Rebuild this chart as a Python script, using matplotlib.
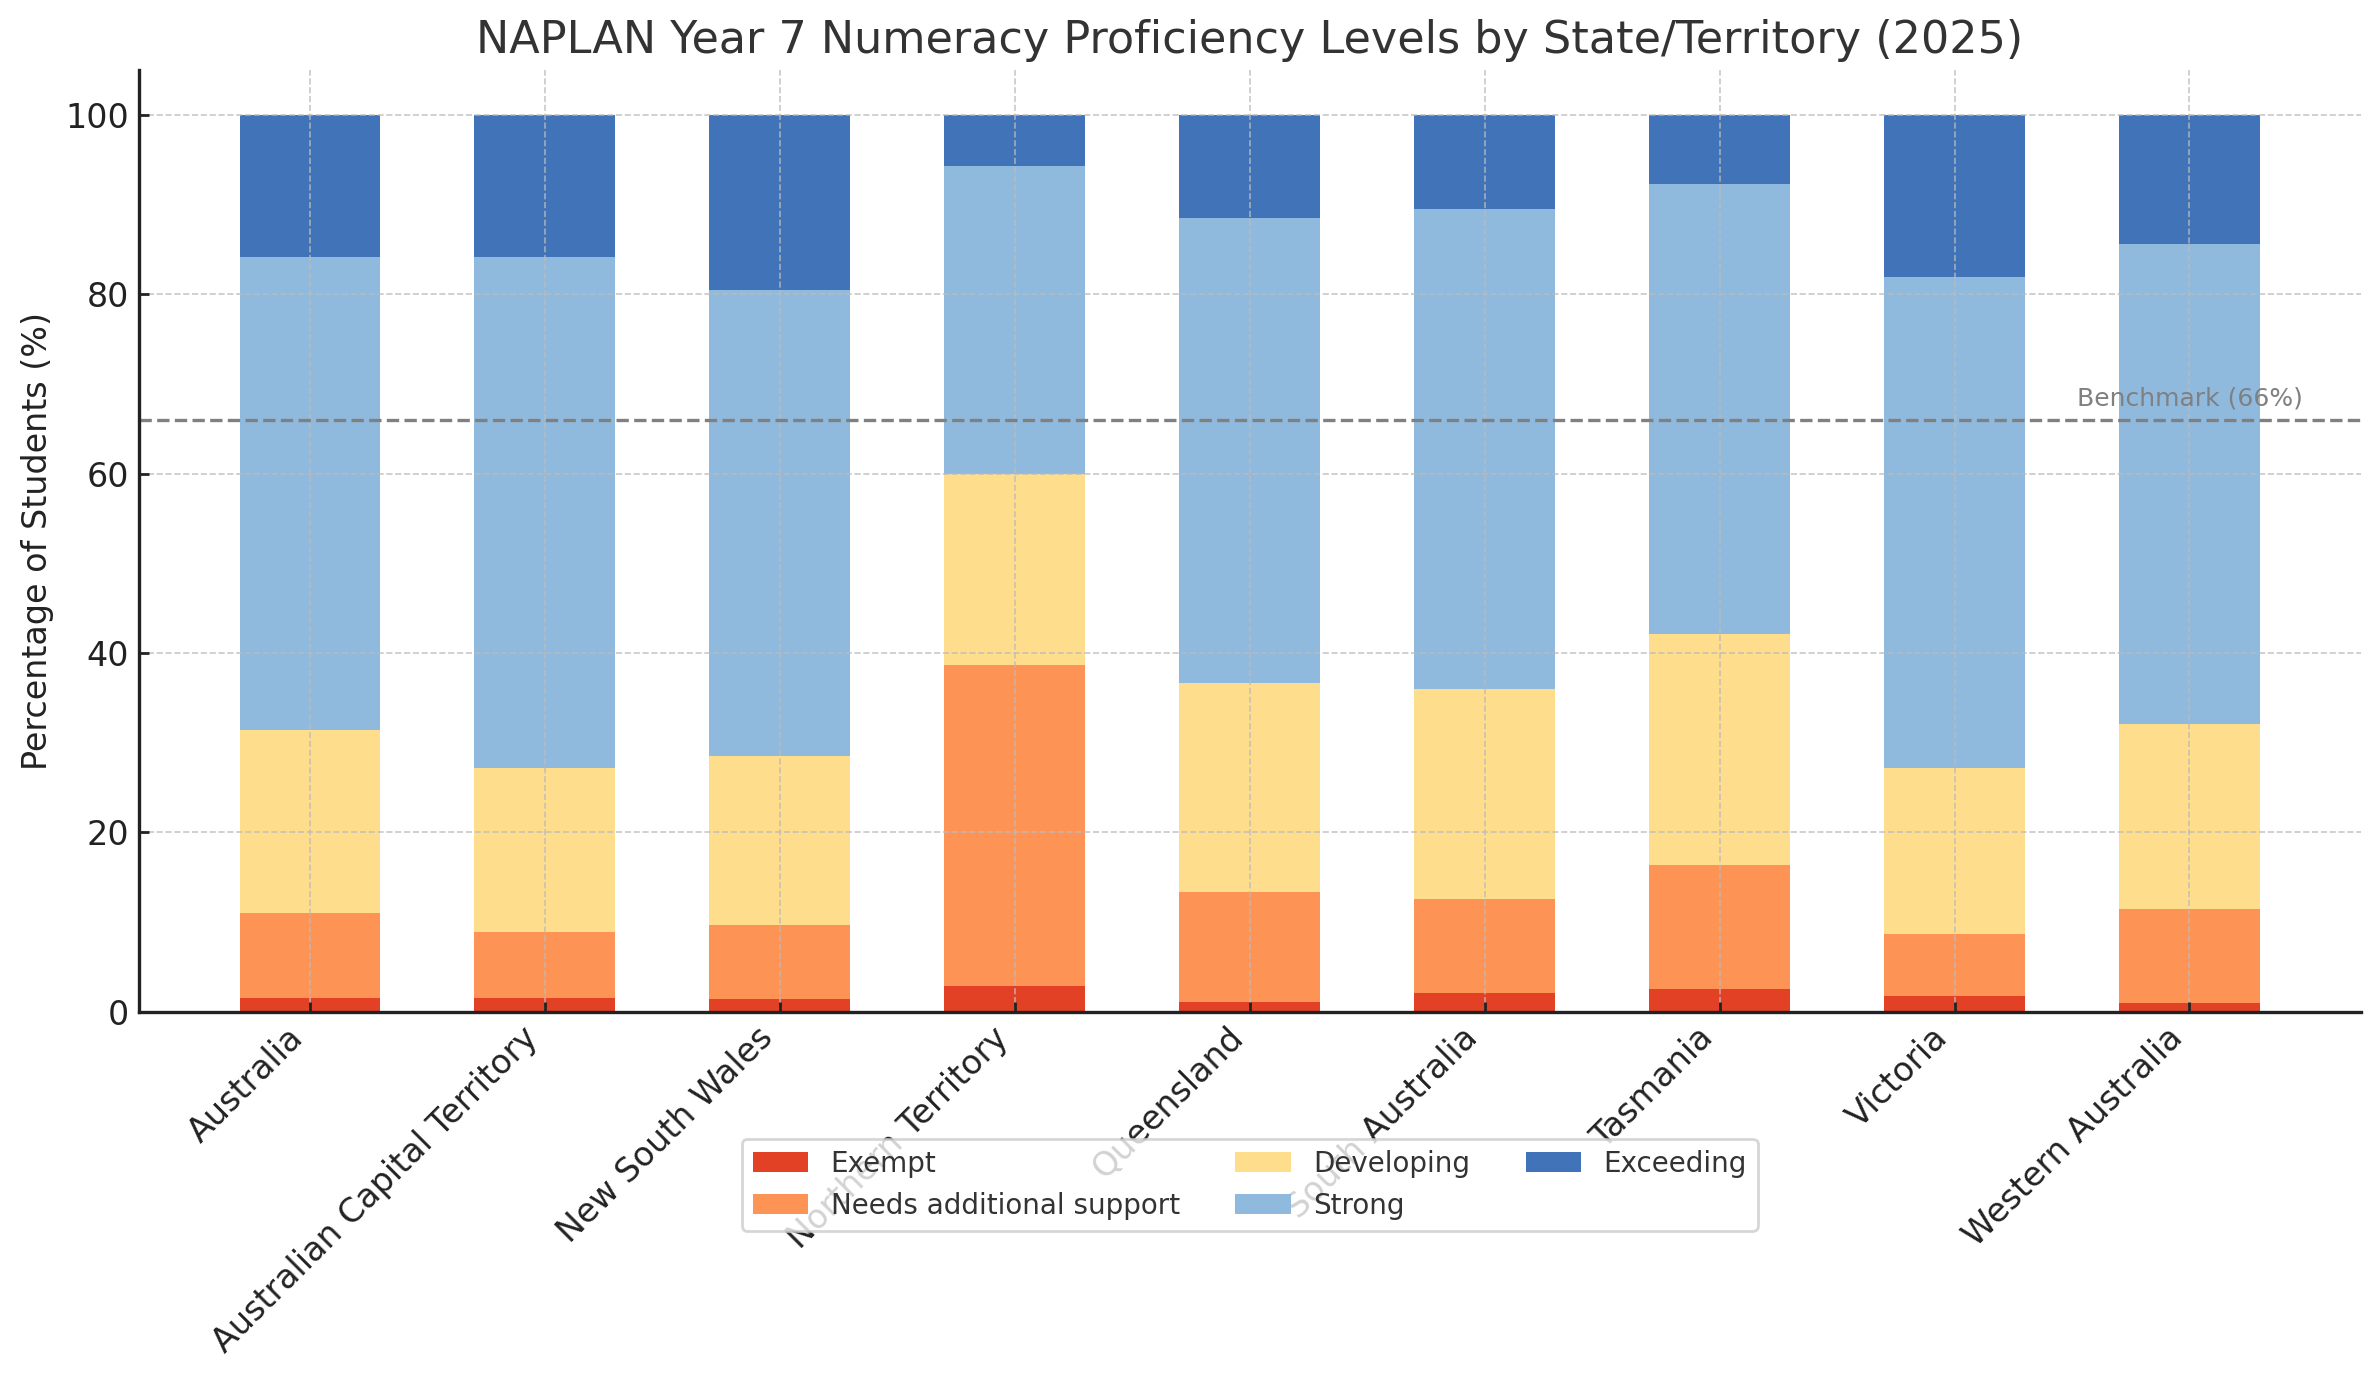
import matplotlib
matplotlib.use("Agg")
import matplotlib.pyplot as plt
import numpy as np

states = ["Australia", "Australian Capital Territory", "New South Wales",
          "Northern Territory", "Queensland", "South Australia", "Tasmania",
          "Victoria", "Western Australia"]
levels = ["Exempt", "Needs additional support", "Developing", "Strong", "Exceeding"]

exempt     = [1.5, 1.5, 1.4, 2.9, 1.1, 2.1, 2.5, 1.8, 1.0]
needs      = [9.5, 7.4, 8.3, 35.8, 12.2, 10.5, 13.9, 6.9, 10.5]
developing = [20.4, 18.3, 18.8, 21.2, 23.4, 23.4, 25.7, 18.5, 20.6]
strong     = [52.8, 57.0, 52.0, 34.4, 51.8, 53.5, 50.2, 54.7, 53.5]
exceeding  = [15.8, 15.8, 19.5, 5.7, 11.5, 10.5, 7.7, 18.1, 14.4]

benchmark = 66

colors = ["#e34126", "#fd9456", "#fede8c", "#8fbade", "#4173b8"]

fig = plt.figure(figsize=(2379/200, 1380/200), dpi=200)
ax = fig.add_axes([138.5/2379, 1 - 1011.7/1380, (2361-138.5)/2379, (1011.7-70)/1380])

series = [exempt, needs, developing, strong, exceeding]
x = np.arange(len(states))
bottom = np.zeros(len(states))
for name, vals, c in zip(levels, series, colors):
    vals = np.array(vals)
    ax.bar(x, vals, width=0.6, bottom=bottom, color=c, label=name)
    bottom += vals

ax.axhline(benchmark, color="gray", linestyle="--", linewidth=1.2)
ax.text(len(states) - 1, benchmark + 1, f"Benchmark ({benchmark}%)", ha="center",
        va="bottom", fontsize=9, color="gray")

ax.set_title("NAPLAN Year 7 Numeracy Proficiency Levels by State/Territory (2025)",
             fontsize=16, color="#333333")
ax.set_ylabel("Percentage of Students (%)", fontsize=12, color="#222222")
ax.set_xticks(x)
ax.set_xticklabels(states, rotation=45, ha="right", fontsize=12, color="#222222")
ax.tick_params(axis="y", labelsize=12, labelcolor="#222222")
ax.tick_params(direction="in", length=3.5, width=1, color="#222222")

ax.grid(True, linestyle="--", linewidth=0.6, color="#bbbbbb", alpha=0.8)
for s in ["top", "right"]:
    ax.spines[s].set_visible(False)
for s in ["left", "bottom"]:
    ax.spines[s].set_linewidth(1.2)
    ax.spines[s].set_color("#222222")

leg = ax.legend(loc="upper center", bbox_to_anchor=(0.5, -0.12), ncol=3, fontsize=10)
for t in leg.get_texts():
    t.set_color("#333333")

fig.savefig("out.png", dpi=200)
